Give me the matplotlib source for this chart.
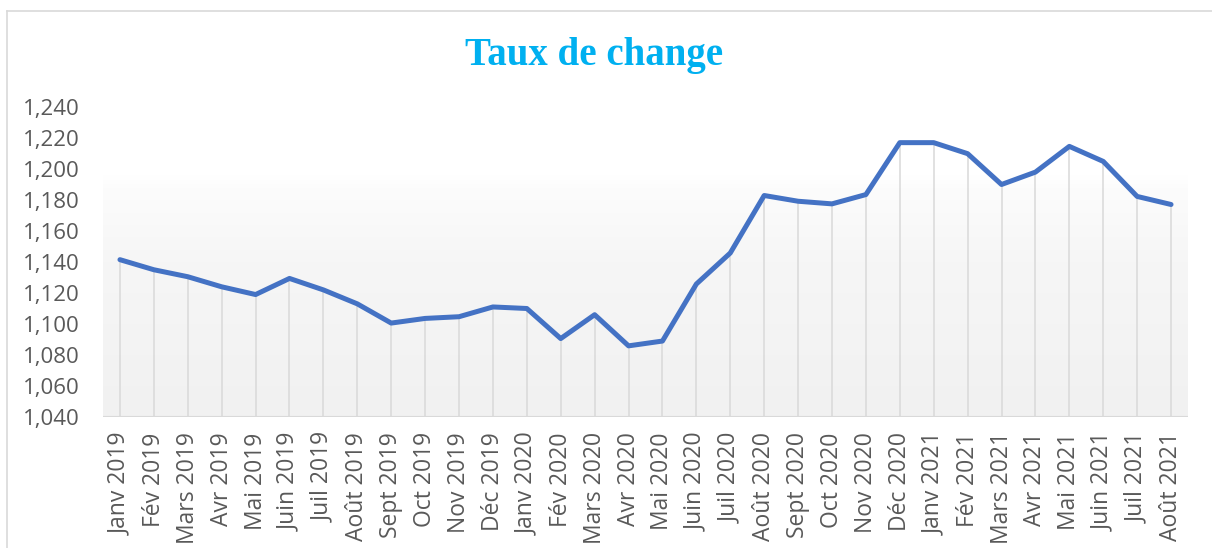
import numpy as np
import matplotlib
matplotlib.use("Agg")
import matplotlib.pyplot as plt
from matplotlib.lines import Line2D
from matplotlib.colors import LinearSegmentedColormap

categories = [
    "Janv 2019", "Fév 2019", "Mars 2019", "Avr 2019", "Mai 2019", "Juin 2019",
    "Juil 2019", "Août 2019", "Sept 2019", "Oct 2019", "Nov 2019", "Déc 2019",
    "Janv 2020", "Fév 2020", "Mars 2020", "Avr 2020", "Mai 2020", "Juin 2020",
    "Juil 2020", "Août 2020", "Sept 2020", "Oct 2020", "Nov 2020", "Déc 2020",
    "Janv 2021", "Fév 2021", "Mars 2021", "Avr 2021", "Mai 2021", "Juin 2021",
    "Juil 2021", "Août 2021",
]
values = [
    1.1415, 1.1350, 1.1305, 1.1240, 1.1190, 1.1294,
    1.1220, 1.1130, 1.1006, 1.1036, 1.1047, 1.1110,
    1.1100, 1.0906, 1.1060, 1.0859, 1.0890, 1.1258,
    1.1458, 1.1829, 1.1792, 1.1775, 1.1835, 1.2170,
    1.2170, 1.2099, 1.1900, 1.1980, 1.2146, 1.2049,
    1.1823, 1.1771,
]
yticks = [1.04, 1.06, 1.08, 1.10, 1.12, 1.14, 1.16, 1.18, 1.20, 1.22, 1.24]
ytick_labels = ["1,040", "1,060", "1,080", "1,100", "1,120", "1,140",
                "1,160", "1,180", "1,200", "1,220", "1,240"]
title = "Taux de change"

W, H = 1212, 548
fig = plt.figure(figsize=(W / 100, H / 100), dpi=100)
fig.patch.set_facecolor("white")

ax = fig.add_axes([103 / W, 1 - 417 / H, (1188 - 103) / W, (417 - 107) / H])
ax.set_facecolor("none")
x = np.arange(len(categories))
ax.set_xlim(-0.5, len(categories) - 0.5)
ax.set_ylim(1.04, 1.24)

# gradient plot-area fill
cmap = LinearSegmentedColormap.from_list(
    "g", [(0.0, "#f1f1f1"), (0.5, "#f6f6f6"), (0.74, "#fcfcfc"), (0.78, "#ffffff"), (1.0, "#ffffff")])
grad = np.linspace(0, 1, 256).reshape(-1, 1)
ax.imshow(grad, aspect="auto", cmap=cmap, origin="lower",
          extent=[-0.5, len(categories) - 0.5, 1.04, 1.24], zorder=0)

# drop lines
ax.vlines(x, 1.04, values, colors="#d9d9d9", linewidth=1.1, zorder=1)
ax.axhline(1.04, color="#d9d9d9", linewidth=1.5, zorder=2)

ax.plot(x, values, color="#4472c4", linewidth=3.6, solid_joinstyle="round",
        solid_capstyle="round", zorder=3)

for s in ax.spines.values():
    s.set_visible(False)

font = "Open Sans"
ax.set_yticks(yticks)
ax.set_yticklabels(ytick_labels, fontsize=16, color="#595959", family=font)
ax.set_xticks(x)
ax.set_xticklabels(categories, rotation=90, fontsize=16.5, color="#595959", family=font)
ax.tick_params(axis="both", length=0)
ax.tick_params(axis="y", pad=16.5)
ax.tick_params(axis="x", pad=11)

fig.text(594 / W, 1 - 65 / H, title, ha="center", va="baseline",
         fontsize=28, fontweight="bold", family="Liberation Serif", color="#00b0f0")

# chart border
fig.add_artist(Line2D([7 / W, 1.0], [1 - 11 / H, 1 - 11 / H], color="#d9d9d9",
                      linewidth=1.2, transform=fig.transFigure))
fig.add_artist(Line2D([7 / W, 7 / W], [1 - 11 / H, 0.0], color="#d9d9d9",
                      linewidth=1.2, transform=fig.transFigure))

fig.savefig("out.png", dpi=100)
